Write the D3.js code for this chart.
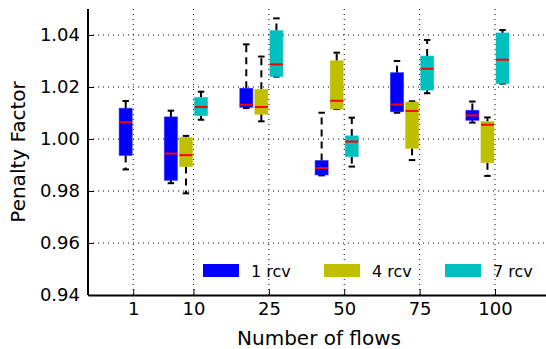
<!DOCTYPE html>
<html>
<head>
<meta charset="utf-8">
<script src="https://cdn.jsdelivr.net/npm/d3@7"></script>
<style>
  body { margin: 0; background: #fff; }
  svg text { font-family: "DejaVu Sans", sans-serif; fill: #000; }
</style>
</head>
<body>
<div id="chart"></div>
<script>
// data: [whisker low, q1, median, q3, whisker high] per group
const groups = ["1", "10", "25", "50", "75", "100"];
const seriesNames = ["1 rcv", "4 rcv", "7 rcv"];
const rcv1 = [
  [0.9883, 0.9937, 1.0064, 1.0118, 1.0146],
  [0.9830, 0.9841, 0.9944, 1.0085, 1.0109],
  [1.0119, 1.0122, 1.0132, 1.0195, 1.0364],
  [0.9860, 0.9862, 0.9888, 0.9917, 1.0101],
  [1.0101, 1.0105, 1.0133, 1.0255, 1.0300],
  [1.0063, 1.0072, 1.0091, 1.0110, 1.0144]
];
const rcv4 = [
  null,
  [0.9791, 0.9894, 0.9938, 1.0006, 1.0012],
  [1.0068, 1.0095, 1.0123, 1.0191, 1.0317],
  [1.0115, 1.0115, 1.0147, 1.0301, 1.0332],
  [0.9919, 0.9964, 1.0108, 1.0142, 1.0145],
  [0.9858, 0.9909, 1.0055, 1.0067, 1.0083]
];
const rcv7 = [
  null,
  [1.0074, 1.0090, 1.0123, 1.0160, 1.0182],
  [1.0240, 1.0240, 1.0287, 1.0417, 1.0464],
  [0.9894, 0.9932, 0.9990, 1.0012, 1.0082],
  [1.0176, 1.0188, 1.0270, 1.0319, 1.0381],
  [1.0213, 1.0213, 1.0305, 1.0408, 1.0419]
];
const yTicks = [0.94, 0.96, 0.98, 1.00, 1.02, 1.04];

const colors = ["#0000ff", "#bfbf00", "#00bfbf"];
const allSeries = [rcv1, rcv4, rcv7];

// box slots along x (first group only has one box)
const groupSlot = [1, 4, 9, 14, 19, 24];
const tickSlot = [1.5, 5.5, 10.5, 15.5, 20.5, 25.5];

const width = 546, height = 349;
const margin = { top: 9, right: -4, bottom: 54, left: 88 };

const svg = d3.select("#chart").append("svg")
  .attr("width", width)
  .attr("height", height);

const x = d3.scaleLinear()
  .domain([-1.5, 29.15])
  .range([margin.left, width - margin.right]);

const y = d3.scaleLinear()
  .domain([0.94, 1.05])
  .range([height - margin.bottom, margin.top]);

const boxW = x(0.86) - x(0);

// grid
const grid = svg.append("g");
grid.selectAll("line.h")
  .data(yTicks.slice(1))
  .enter().append("line")
  .attr("x1", margin.left).attr("x2", width)
  .attr("y1", d => y(d)).attr("y2", d => y(d))
  .attr("stroke", "#000").attr("stroke-width", 1)
  .attr("stroke-dasharray", "1,4");
grid.selectAll("line.v")
  .data(tickSlot)
  .enter().append("line")
  .attr("x1", d => x(d)).attr("x2", d => x(d))
  .attr("y1", margin.top).attr("y2", y(0.94))
  .attr("stroke", "#000").attr("stroke-width", 1)
  .attr("stroke-dasharray", "1,4");

// boxes
allSeries.forEach((ser, si) => {
  ser.forEach((s, gi) => {
    if (!s) return;
    const cx = x(groupSlot[gi] + si);
    const g = svg.append("g");
    // whiskers
    g.append("line")
      .attr("x1", cx).attr("x2", cx)
      .attr("y1", y(s[3])).attr("y2", y(s[4]))
      .attr("stroke", "#000").attr("stroke-width", 2)
      .attr("stroke-dasharray", "7,5");
    g.append("line")
      .attr("x1", cx).attr("x2", cx)
      .attr("y1", y(s[1])).attr("y2", y(s[0]))
      .attr("stroke", "#000").attr("stroke-width", 2)
      .attr("stroke-dasharray", "7,5");
    // caps
    [s[0], s[4]].forEach(v => {
      g.append("line")
        .attr("x1", cx - boxW / 4).attr("x2", cx + boxW / 4)
        .attr("y1", y(v)).attr("y2", y(v))
        .attr("stroke", "#000").attr("stroke-width", 2);
    });
    g.append("rect")
      .attr("x", cx - boxW / 2)
      .attr("y", y(s[3]))
      .attr("width", boxW)
      .attr("height", Math.max(1, y(s[1]) - y(s[3])))
      .attr("fill", colors[si])
      .attr("stroke", colors[si]).attr("stroke-opacity", 0.5)
      .attr("stroke-width", 1);
    g.append("line")
      .attr("x1", cx - boxW / 2).attr("x2", cx + boxW / 2)
      .attr("y1", y(s[2])).attr("y2", y(s[2]))
      .attr("stroke", "#ff0000").attr("stroke-width", 2);
  });
});

// axes
const xAxis = d3.axisBottom(x)
  .tickValues(tickSlot)
  .tickFormat((d, i) => groups[i])
  .tickSizeInner(-6).tickSizeOuter(0).tickPadding(7);
const yAxis = d3.axisLeft(y)
  .tickValues(yTicks)
  .tickFormat(d3.format(".2f"))
  .tickSizeInner(-6).tickSizeOuter(0).tickPadding(8);

const gx = svg.append("g")
  .attr("transform", `translate(0,${y(0.94)})`)
  .call(xAxis);
const gy = svg.append("g")
  .attr("transform", `translate(${margin.left},0)`)
  .call(yAxis);

[gx, gy].forEach(a => {
  a.select(".domain").attr("stroke", "#000").attr("stroke-width", 2);
  a.selectAll(".tick line").attr("stroke", "#000").attr("stroke-width", 1);
  a.selectAll(".tick text").attr("font-size", 18).attr("font-family", "DejaVu Sans");
});
gy.select(".domain").attr("d", `M0,${margin.top}V${y(0.94)}`);

// labels
svg.append("text")
  .attr("x", x((x.domain()[0] + x.domain()[1]) / 2))
  .attr("y", 345)
  .attr("text-anchor", "middle")
  .attr("font-size", 20)
  .text("Number of flows");
svg.append("text")
  .attr("transform", `translate(25,${(margin.top + y(0.94)) / 2}) rotate(-90)`)
  .attr("text-anchor", "middle")
  .attr("font-size", 20)
  .text("Penalty Factor");

// legend
const legendX = [203, 324, 445];
const legend = svg.append("g");
seriesNames.forEach((name, i) => {
  legend.append("rect")
    .attr("x", legendX[i]).attr("y", 264)
    .attr("width", 36).attr("height", 13)
    .attr("fill", colors[i]);
  legend.append("text")
    .attr("x", legendX[i] + 48).attr("y", 277)
    .attr("font-size", 16)
    .text(name);
});
</script>
</body>
</html>
